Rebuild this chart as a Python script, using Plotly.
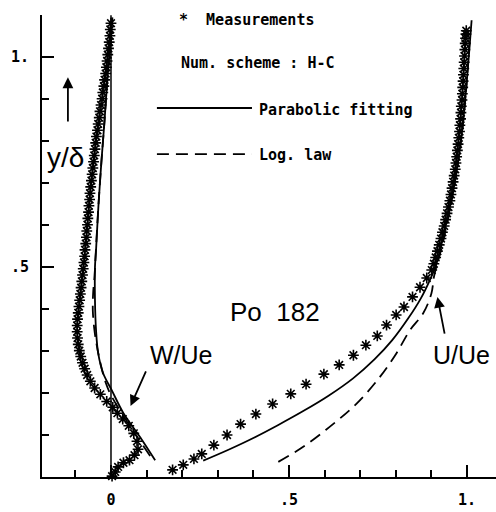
import plotly.graph_objects as go

# ---------------- data ----------------
# U/Ue measurements
u_meas_x = [0.173, 0.203, 0.233, 0.255, 0.289, 0.326, 0.364, 0.407, 0.454, 0.505,
            0.548, 0.598, 0.641, 0.681, 0.716, 0.748, 0.774, 0.801, 0.823, 0.847,
            0.868, 0.887, 0.901, 0.907, 0.912, 0.917, 0.922, 0.927, 0.931, 0.936,
            0.940, 0.944, 0.948, 0.952, 0.955, 0.958, 0.961, 0.964, 0.967, 0.969,
            0.971, 0.973, 0.975, 0.977, 0.979, 0.980, 0.982, 0.983, 0.984, 0.986,
            0.987, 0.988, 0.989, 0.990, 0.991, 0.992, 0.993, 0.994, 0.995, 0.996,
            0.997, 0.998]
u_meas_y = [0.017, 0.029, 0.043, 0.055, 0.076, 0.100, 0.126, 0.150, 0.174, 0.198,
            0.221, 0.245, 0.267, 0.290, 0.314, 0.336, 0.362, 0.386, 0.405, 0.429,
            0.452, 0.474, 0.493, 0.508, 0.523, 0.538, 0.553, 0.568, 0.583, 0.598,
            0.613, 0.628, 0.643, 0.658, 0.673, 0.688, 0.703, 0.718, 0.733, 0.748,
            0.763, 0.778, 0.793, 0.808, 0.823, 0.838, 0.853, 0.868, 0.883, 0.898,
            0.913, 0.928, 0.943, 0.958, 0.973, 0.988, 1.003, 1.018, 1.033, 1.045,
            1.055, 1.063]

# W/Ue measurements
w_meas_x = [0.003, 0.012, 0.020, 0.035, 0.052, 0.066, 0.076, 0.073, 0.064, 0.050,
            0.033, 0.018, 0.005, -0.012, -0.030, -0.046, -0.058, -0.067, -0.074, -0.080,
            -0.085, -0.089, -0.092, -0.094, -0.095, -0.095, -0.094, -0.092, -0.090, -0.088,
            -0.086, -0.084, -0.082, -0.080, -0.078, -0.076, -0.074, -0.073,
            -0.071, -0.069, -0.068, -0.066, -0.065, -0.063, -0.062, -0.060, -0.059, -0.057,
            -0.055, -0.053, -0.051, -0.049, -0.047, -0.045, -0.043, -0.041, -0.038, -0.036,
            -0.033, -0.031, -0.028, -0.025, -0.023, -0.020, -0.018, -0.015, -0.013, -0.011,
            -0.009, -0.007, -0.005, -0.003, -0.002, 0.000]
w_meas_y = [0.002, 0.012, 0.024, 0.034, 0.040, 0.052, 0.066, 0.085, 0.104, 0.122,
            0.138, 0.152, 0.166, 0.180, 0.197, 0.212, 0.228, 0.243, 0.258, 0.272,
            0.287, 0.301, 0.316, 0.331, 0.346, 0.361, 0.376, 0.391, 0.406, 0.421,
            0.436, 0.451, 0.466, 0.481, 0.496, 0.511, 0.526, 0.541,
            0.556, 0.571, 0.586, 0.601, 0.616, 0.631, 0.646, 0.661, 0.676, 0.691,
            0.706, 0.721, 0.736, 0.751, 0.766, 0.781, 0.796, 0.811, 0.826, 0.841,
            0.856, 0.871, 0.886, 0.901, 0.916, 0.931, 0.946, 0.961, 0.976, 0.991,
            1.006, 1.021, 1.036, 1.051, 1.066, 1.081]

# Parabolic fitting (solid)
u_par_x = [0.259, 0.330, 0.400, 0.470, 0.540, 0.610, 0.680, 0.740, 0.790, 0.835,
           0.870, 0.895, 0.915, 0.940, 0.965, 0.983, 0.995, 1.005, 1.013]
u_par_y = [0.039, 0.065, 0.093, 0.124, 0.157, 0.193, 0.235, 0.280, 0.326, 0.378,
           0.425, 0.468, 0.510, 0.600, 0.700, 0.800, 0.900, 1.000, 1.088]
w_par_x = [0.124, 0.081, 0.035, 0.002, -0.022, -0.036, -0.042, -0.045, -0.045, -0.042,
           -0.035, -0.027, -0.018, -0.010, 0.000, 0.004]
w_par_y = [0.040, 0.096, 0.152, 0.207, 0.247, 0.295, 0.350, 0.421, 0.500, 0.540,
           0.650, 0.750, 0.850, 0.950, 1.050, 1.095]

# Log. law (dashed)
u_log_x = [0.470, 0.540, 0.615, 0.690, 0.756, 0.802, 0.840, 0.877, 0.900, 0.908,
           0.930, 0.955, 0.975, 0.990, 1.000, 1.008]
u_log_y = [0.036, 0.072, 0.120, 0.175, 0.239, 0.295, 0.350, 0.390, 0.437, 0.480,
           0.550, 0.650, 0.750, 0.850, 0.950, 1.050]
w_log_x = [0.110, 0.070, 0.035, 0.000, -0.015, -0.032, -0.045, -0.051, -0.050, -0.046,
           -0.043, -0.035, -0.027, -0.018, -0.010, 0.000]
w_log_y = [0.050, 0.100, 0.145, 0.195, 0.225, 0.280, 0.340, 0.395, 0.440, 0.480,
           0.530, 0.650, 0.750, 0.850, 0.950, 1.050]

x_tick_vals = [0, 0.5, 1.0]
x_tick_text = ["0", ".5", "1."]
y_tick_vals = [0.5, 1.0]
y_tick_text = [".5", "1."]

# ---------------- figure ----------------
MONO = "DejaVu Sans Mono"
SANS = "Liberation Sans"

fig = go.Figure()

star = dict(symbol="asterisk-open", size=9, color="black",
            line=dict(color="black", width=1.6))
fig.add_trace(go.Scatter(x=u_meas_x, y=u_meas_y, mode="markers", marker=star,
                         showlegend=False, cliponaxis=False))
fig.add_trace(go.Scatter(x=w_meas_x, y=w_meas_y, mode="markers", marker=star,
                         showlegend=False, cliponaxis=False))

solid = dict(color="black", width=1.8)
dashed = dict(color="black", width=1.8, dash="12px,7px")
fig.add_trace(go.Scatter(x=u_par_x, y=u_par_y, mode="lines", line=solid,
                         line_shape="spline", showlegend=False))
fig.add_trace(go.Scatter(x=w_par_x, y=w_par_y, mode="lines", line=solid,
                         line_shape="spline", showlegend=False))
fig.add_trace(go.Scatter(x=u_log_x, y=u_log_y, mode="lines", line=dashed,
                         line_shape="spline", showlegend=False))
fig.add_trace(go.Scatter(x=w_log_x, y=w_log_y, mode="lines", line=dashed,
                         line_shape="spline", showlegend=False))

# vertical zero line
fig.add_shape(type="line", x0=0, x1=0, y0=0, y1=1.1, xref="x", yref="y",
              line=dict(color="black", width=1.5))

# legend (hand drawn like the original)
fig.add_shape(type="line", x0=0.129, x1=0.396, y0=0.879, y1=0.879,
              line=dict(color="black", width=1.8))
fig.add_shape(type="line", x0=0.129, x1=0.396, y0=0.769, y1=0.769,
              line=dict(color="black", width=1.8, dash="12px,7px"))

leg_font = dict(family=MONO, size=15, color="black", weight="bold")
fig.add_annotation(x=0.185, y=1.088, xref="x", yref="y", text="*  Measurements",
                   showarrow=False, xanchor="left", yanchor="middle", font=leg_font)
fig.add_annotation(x=0.190, y=0.986, xref="x", yref="y", text="Num. scheme : H-C",
                   showarrow=False, xanchor="left", yanchor="middle", font=leg_font)
fig.add_annotation(x=0.410, y=0.874, xref="x", yref="y", text="Parabolic fitting",
                   showarrow=False, xanchor="left", yanchor="middle", font=leg_font)
fig.add_annotation(x=0.410, y=0.767, xref="x", yref="y", text="Log. law",
                   showarrow=False, xanchor="left", yanchor="middle", font=leg_font)

lab_font = dict(family=SANS, size=25, color="black")
fig.add_annotation(x=0.461, y=0.393, xref="x", yref="y", text="Po  182",
                   showarrow=False, font=dict(family=SANS, size=26, color="black"))
fig.add_annotation(x=0.197, y=0.290, xref="x", yref="y", text="W/Ue",
                   showarrow=False, font=lab_font)
fig.add_annotation(x=0.900, y=0.290, xref="x", yref="y", text="U/Ue",
                   showarrow=False, xanchor="left", font=lab_font)
fig.add_annotation(x=-0.127, y=0.762, xref="x", yref="y", text="y/δ",
                   showarrow=False, font=dict(family=SANS, size=28, color="black"))

# arrows
arrow = dict(showarrow=True, arrowhead=2, arrowsize=1.2, arrowwidth=1.8,
             arrowcolor="black", text="", xref="x", yref="y", axref="x", ayref="y")
fig.add_annotation(x=-0.121, y=0.952, ax=-0.121, ay=0.843, **arrow)
fig.add_annotation(x=0.055, y=0.169, ax=0.100, ay=0.255, **arrow)
fig.add_annotation(x=0.917, y=0.429, ax=0.938, ay=0.338, **arrow)

tick_font = dict(family=MONO, size=15, color="black", weight="bold")
fig.update_xaxes(range=[-0.1938, 1.0815], showgrid=False, zeroline=False,
                 showline=True, linecolor="black", linewidth=2,
                 ticks="inside", ticklen=12, tickwidth=1.5, tickcolor="black",
                 tickvals=x_tick_vals, ticktext=x_tick_text, tickfont=tick_font,
                 ticklabelstandoff=8,
                 minor=dict(tick0=0, dtick=0.1, ticks="inside", ticklen=7,
                            tickwidth=1.5, tickcolor="black"))
fig.update_yaxes(range=[0, 1.1005], showgrid=False, zeroline=False,
                 showline=True, linecolor="black", linewidth=2,
                 ticks="inside", ticklen=12, tickwidth=1.5, tickcolor="black",
                 tickvals=y_tick_vals, ticktext=y_tick_text, tickfont=tick_font,
                 ticklabelstandoff=8,
                 minor=dict(tick0=0, dtick=0.1, ticks="inside", ticklen=7,
                            tickwidth=1.5, tickcolor="black"))

fig.update_layout(width=496, height=512, margin=dict(l=42, r=0, t=15, b=35),
                  plot_bgcolor="white", paper_bgcolor="white", showlegend=False)

fig.write_html("out.html")
